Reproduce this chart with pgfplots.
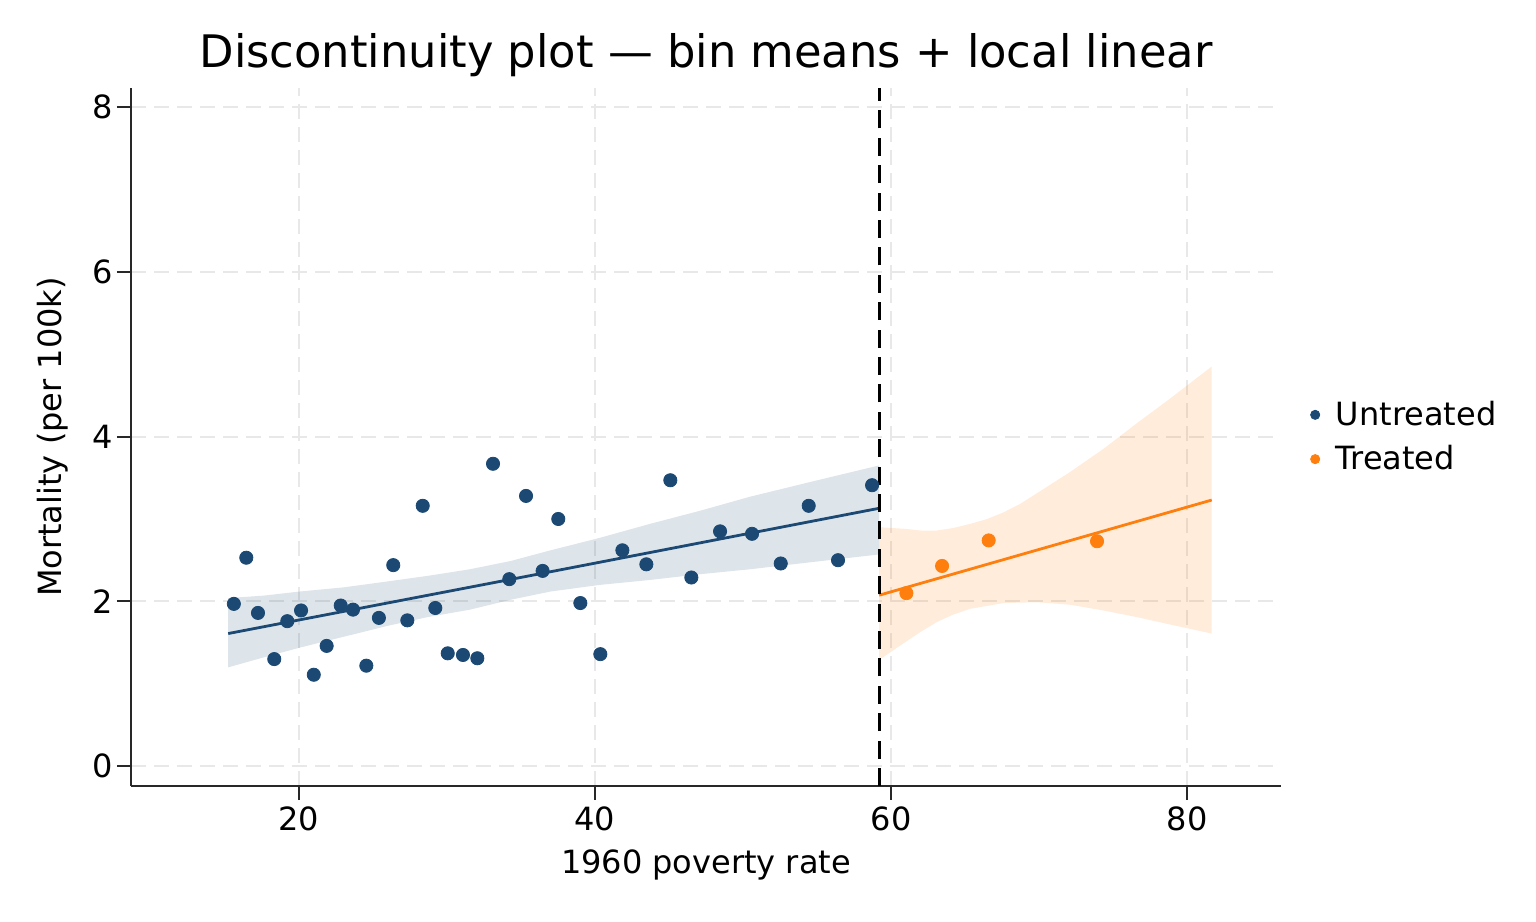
\documentclass[border=0pt]{standalone}
\usepackage{pgfplots}
\pgfplotsset{compat=1.18}
\usepackage{fontspec}
\setmainfont{DejaVu Sans}
\definecolor{untr}{RGB}{27,73,115}
\definecolor{tr}{RGB}{255,127,14}
\definecolor{gridc}{RGB}{232,232,232}
\definecolor{axc}{RGB}{40,40,40}
\begin{document}
\begin{tikzpicture}
\path[use as bounding box] (-65.5pt,-67.5pt) rectangle (702.5pt,393pt);
\begin{axis}[
  scale only axis,
  width=575pt, height=349pt,
  xmin=8.65, xmax=86.35,
  ymin=-0.24, ymax=8.23,
  axis x line*=bottom, axis y line*=left,
  axis line style={line width=1pt, color=axc},
  xtick={20,40,60,80}, ytick={0,2,4,6,8},
  tick align=outside,
  major tick length=7pt,
  tick style={line width=1pt, color=axc},
  grid=major,
  major grid style={color=gridc, line width=1pt, dash pattern=on 7.5pt off 4pt},
  /pgf/number format/assume math mode=true,
  tick label style={font=\fontsize{16}{19}\selectfont},
  yticklabel style={xshift=1.5pt},
  label style={font=\fontsize{16}{19}\selectfont},
  xlabel={1960 poverty rate},
  ylabel={Mortality (per 100k)},
  xlabel style={at={(axis description cs:0.5,0)}, anchor=base, yshift=-43.5pt},
  ylabel style={at={([xshift=-34.5pt]axis description cs:0,0.5)}, anchor=base},
  title={Discontinuity plot — bin means + local linear},
  title style={at={(axis description cs:0.5,1)}, anchor=base, yshift=4.3pt, font=\fontsize{22.4}{26}\selectfont},
  legend style={at={(axis description cs:1,0.5)}, anchor=west, xshift=11.4pt, draw=none, fill=none,
    font=\fontsize{16}{19}\selectfont, row sep=4.5pt},
  legend cell align=left,
  clip=false,
]
% confidence bands
\addplot[fill=untr, fill opacity=0.15, draw=none, forget plot] coordinates {
 (15.22,2.04) (17.6,2.07) (20.07,2.12) (23,2.17) (25.9,2.24) (28.7,2.31) (31.55,2.39) (34.3,2.49) (37,2.62) (40.3,2.77) (43.7,2.94) (47.1,3.10) (50.47,3.27) (54.8,3.46) (59.2,3.65)
 (59.2,2.57) (54.8,2.48) (50.47,2.39) (47.1,2.33) (43.7,2.26) (40.3,2.20) (37,2.12) (34.3,2.02) (31.55,1.90) (28.7,1.81) (25.9,1.70) (23,1.57) (20.07,1.44) (17.6,1.32) (15.22,1.20)
} -- cycle;
\addplot[fill=tr, fill opacity=0.15, draw=none, forget plot] coordinates {
 (59.2,2.90) (61,2.88) (62,2.86) (63.1,2.86) (64.2,2.89) (65.34,2.94) (66.5,3.00) (67.6,3.08) (68.7,3.18) (69.84,3.31) (72.1,3.57) (74.35,3.85) (76.6,4.16) (78.85,4.46) (81.67,4.85)
 (81.67,1.61) (78.85,1.72) (76.6,1.81) (74.35,1.89) (72.1,1.96) (69.84,1.99) (67.6,1.98) (65.34,1.91) (64.2,1.84) (63.1,1.75) (62,1.63) (60.83,1.49) (59.2,1.29)
} -- cycle;
% local linear fits
\addplot[untr, line width=1.4pt, forget plot] coordinates {(15.22,1.61) (37,2.36) (59.2,3.13)};
\addplot[tr, line width=1.4pt, forget plot] coordinates {(59.2,2.075) (81.67,3.23)};
% cutoff
\addplot[black, line width=1.35pt, dash pattern=on 9pt off 4.7pt, forget plot] coordinates {(59.2,-0.24) (59.2,8.23)};
% bin means
\addplot[only marks, mark=*, mark size=3.3pt, color=untr,
  legend image code/.code={\fill[untr] (0.2cm,0cm) circle (2.3pt); \path[draw=none,fill=none] (0.2cm,0cm) -- ++(8.3pt,0pt);}] coordinates {
 (15.6,1.97) (16.44,2.53) (17.23,1.86) (18.33,1.30) (19.21,1.76) (20.14,1.89)
 (21.0,1.11) (21.87,1.46) (22.82,1.95) (23.65,1.90) (24.55,1.22) (25.4,1.80)
 (26.37,2.44) (27.32,1.77) (28.36,3.16) (29.21,1.92) (30.05,1.37) (31.08,1.35)
 (32.05,1.31) (33.11,3.67) (34.21,2.27) (35.34,3.28) (36.46,2.37) (37.52,3.00)
 (39.01,1.98) (40.36,1.36) (41.85,2.62) (43.47,2.45) (45.09,3.47) (46.51,2.29)
 (48.45,2.85) (50.61,2.82) (52.55,2.46) (54.44,3.16) (56.42,2.50) (58.72,3.41)
};
\addlegendentry{Untreated}
\addplot[only marks, mark=*, mark size=3.3pt, color=tr,
  legend image code/.code={\fill[tr] (0.2cm,0cm) circle (2.3pt); \path[draw=none,fill=none] (0.2cm,0cm) -- ++(8.3pt,0pt);}] coordinates {
 (61.04,2.10) (63.45,2.43) (66.6,2.74) (73.92,2.73)
};
\addlegendentry{Treated}
\end{axis}
\end{tikzpicture}
\end{document}
